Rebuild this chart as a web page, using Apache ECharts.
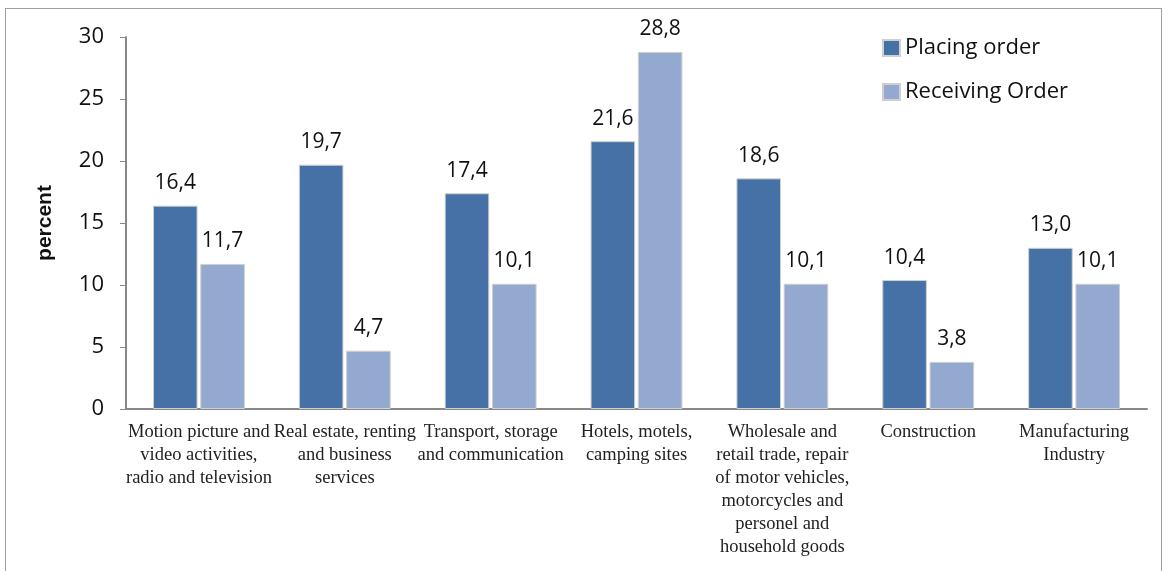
<!DOCTYPE html>
<html><head><meta charset="utf-8">
<script src="https://cdn.jsdelivr.net/npm/echarts@6/dist/echarts.min.js"></script>
<style>html,body{margin:0;padding:0;background:#fff}#frame{position:absolute;left:5px;top:8px;width:1157px;height:570px;border:1px solid #a0a0a0;border-bottom:none;box-sizing:border-box}#c{width:1168px;height:571px}</style>
</head><body><div id="frame"></div><div id="c"></div>
<script>
const categories = [
  "Motion picture and\nvideo activities,\nradio and television",
  "Real estate, renting\nand business\nservices",
  "Transport, storage\nand communication",
  "Hotels, motels,\ncamping sites",
  "Wholesale and\nretail trade, repair\nof motor vehicles,\nmotorcycles and\npersonel and\nhousehold goods",
  "Construction",
  "Manufacturing\nIndustry"
];
const placingOrder = [16.4, 19.7, 17.4, 21.6, 18.6, 10.4, 13.0];
const receivingOrder = [11.7, 4.7, 10.1, 28.8, 10.1, 3.8, 10.1];
const yTicks = [0, 5, 10, 15, 20, 25, 30];

const chart = echarts.init(document.getElementById('c'));
const sans = 'Open Sans, Liberation Sans, sans-serif';
const lbl = {
  show: true, position: 'top', distance: 12,
  fontFamily: sans, fontSize: 21, color: '#111',
  formatter: p => p.value.toFixed(1).replace('.', ',')
};
chart.setOption({
  animation: false,
  grid: { left: 126, right: 21, top: 37, bottom: 162 },
  legend: {
    left: 877, top: 32, orient: 'vertical', itemGap: 22,
    itemWidth: 17, itemHeight: 16, icon: 'rect',
    textStyle: { fontFamily: sans, fontSize: 22, color: '#111' }
  },
  xAxis: {
    type: 'category', data: categories,
    axisLine: { lineStyle: { color: '#888', width: 2 } },
    axisTick: { show: false },
    axisLabel: { interval: 0, fontFamily: 'Liberation Serif, DejaVu Serif, serif', fontSize: 18.5, color: '#222', lineHeight: 23, margin: 12 }
  },
  yAxis: {
    type: 'value', min: yTicks[0], max: yTicks[yTicks.length - 1], interval: 5,
    name: 'percent', nameLocation: 'middle', nameGap: 70,
    nameTextStyle: { fontFamily: 'Liberation Sans, sans-serif', fontSize: 21, fontWeight: 'bold', color: '#111' },
    axisLine: { show: true, lineStyle: { color: '#888', width: 2 } },
    axisTick: { show: true, inside: false, length: 6, lineStyle: { color: '#888' } },
    splitLine: { show: false },
    axisLabel: { fontFamily: sans, fontSize: 22, color: '#111', margin: 22 }
  },
  series: [
    { name: 'Placing order', type: 'bar', data: placingOrder, barGap: '6%', barCategoryGap: '37%',
      itemStyle: { color: '#4571A6', borderColor: '#d0d0d0', borderWidth: 1 }, label: lbl },
    { name: 'Receiving Order', type: 'bar', data: receivingOrder,
      itemStyle: { color: '#93A9CF', borderColor: '#d0d0d0', borderWidth: 1 }, label: lbl }
  ]
});
</script></body></html>
